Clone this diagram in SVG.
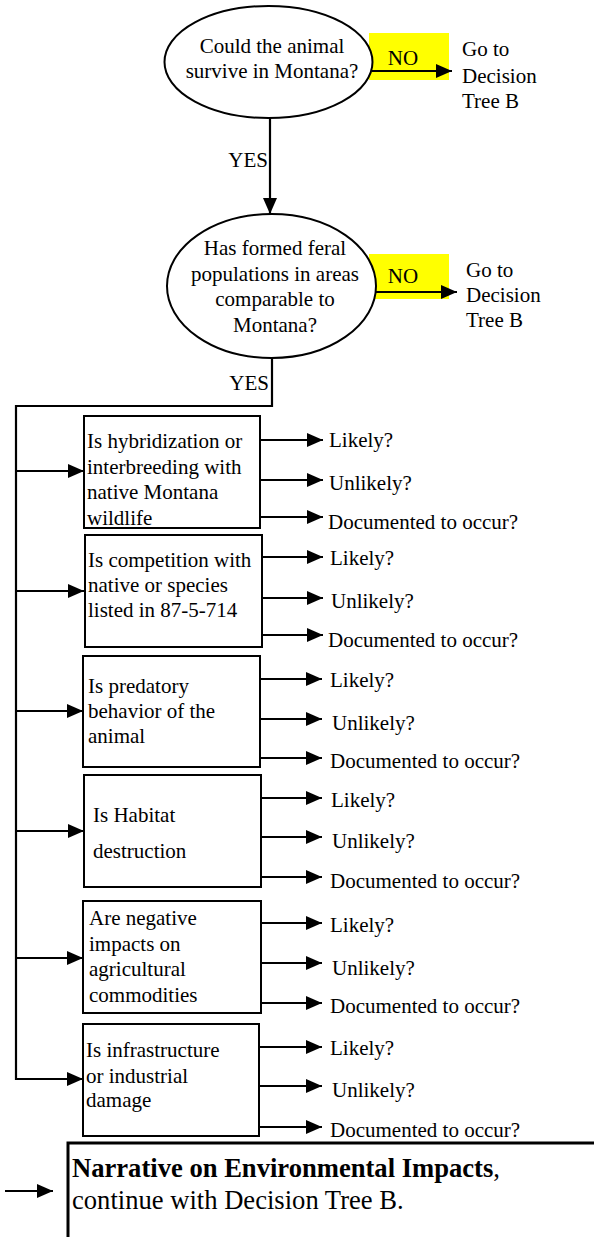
<svg xmlns="http://www.w3.org/2000/svg" width="594" height="1237" viewBox="0 0 594 1237">
<style>
text{font-family:"Liberation Serif",Tinos,"Times New Roman",Times,"Noto Serif","DejaVu Serif",serif;font-size:21px;fill:#000}
.c{text-anchor:middle}
.e{text-anchor:end}
.shape{fill:#fff;stroke:#000;stroke-width:2}
.ln{fill:none;stroke:#000;stroke-width:2.2}
.ar{fill:none;stroke:#000;stroke-width:2.2;marker-end:url(#ah)}
.hl{fill:#ffff00}
.big{font-size:26.6px}
</style>
<defs>
<marker id="ah" markerUnits="userSpaceOnUse" markerWidth="16" markerHeight="14" refX="16" refY="7" orient="auto">
<path d="M0,0 L16,7 L0,14 z" fill="#000"/>
</marker>
</defs>
<rect width="594" height="1237" fill="#fff"/>

<g id="no1">
<rect class="hl" x="369" y="33" width="80" height="47"/>
<text class="c" x="403" y="65">NO</text>
</g>
<g id="no2">
<rect class="hl" x="369" y="254" width="80" height="45"/>
<text class="c" x="403" y="283">NO</text>
</g>

<g id="connectors">
<line class="ar" x1="270" y1="118" x2="270" y2="214"/>
<line class="ar" x1="372" y1="71" x2="452" y2="71"/>
<line class="ar" x1="376" y1="292" x2="457" y2="292"/>
<polyline class="ln" points="272,358 272,406 16,406 16,1079 30,1079"/>
<line class="ar" x1="16" y1="471" x2="84" y2="471"/>
<line class="ar" x1="16" y1="591" x2="84" y2="591"/>
<line class="ar" x1="16" y1="711" x2="83" y2="711"/>
<line class="ar" x1="16" y1="831" x2="84" y2="831"/>
<line class="ar" x1="16" y1="958" x2="83" y2="958"/>
<line class="ar" x1="16" y1="1079" x2="83" y2="1079"/>
<line class="ar" x1="260" y1="440" x2="323" y2="440"/>
<line class="ar" x1="260" y1="480" x2="323" y2="480"/>
<line class="ar" x1="260" y1="517" x2="323" y2="517"/>
<line class="ar" x1="262" y1="557" x2="323" y2="557"/>
<line class="ar" x1="262" y1="598" x2="323" y2="598"/>
<line class="ar" x1="262" y1="635" x2="323" y2="635"/>
<line class="ar" x1="260" y1="679" x2="322" y2="679"/>
<line class="ar" x1="260" y1="719" x2="322" y2="719"/>
<line class="ar" x1="260" y1="758" x2="322" y2="758"/>
<line class="ar" x1="261" y1="798" x2="322" y2="798"/>
<line class="ar" x1="261" y1="837" x2="322" y2="837"/>
<line class="ar" x1="261" y1="877" x2="322" y2="877"/>
<line class="ar" x1="261" y1="923" x2="322" y2="923"/>
<line class="ar" x1="261" y1="963" x2="322" y2="963"/>
<line class="ar" x1="261" y1="1003" x2="322" y2="1003"/>
<line class="ar" x1="259" y1="1047" x2="322" y2="1047"/>
<line class="ar" x1="259" y1="1086" x2="322" y2="1086"/>
<line class="ar" x1="259" y1="1127" x2="322" y2="1127"/>
<line class="ar" x1="5" y1="1191" x2="53" y2="1191"/>
<text class="e" x="268" y="167">YES</text>
<text class="e" x="269" y="390">YES</text>
</g>

<g id="q1">
<ellipse class="shape" cx="268.5" cy="62" rx="104" ry="56"/>
<text class="c" x="272" y="53">Could the animal</text>
<text class="c" x="272" y="78">survive in Montana?</text>
</g>
<g id="goto1">
<text x="462" y="56">Go to</text>
<text x="462" y="83">Decision</text>
<text x="462" y="108">Tree B</text>
</g>

<g id="q2">
<ellipse class="shape" cx="271.5" cy="286" rx="104.5" ry="72"/>
<text class="c" x="275" y="255">Has formed feral</text>
<text class="c" x="275" y="281">populations in areas</text>
<text class="c" x="275" y="306">comparable to</text>
<text class="c" x="275" y="332">Montana?</text>
</g>
<g id="goto2">
<text x="466" y="277">Go to</text>
<text x="466" y="302">Decision</text>
<text x="466" y="327">Tree B</text>
</g>

<g id="b1">
<rect class="shape" x="84" y="416" width="176" height="112"/>
<text x="87" y="448">Is hybridization or</text>
<text x="87" y="474">interbreeding with</text>
<text x="87" y="499">native Montana</text>
<text x="87" y="525">wildlife</text>
</g>
<g id="b1-out">
<text x="329" y="447">Likely?</text>
<text x="329" y="490">Unlikely?</text>
<text x="328" y="529">Documented to occur?</text>
</g>

<g id="b2">
<rect class="shape" x="85" y="535" width="177" height="112"/>
<text x="88" y="567">Is competition with</text>
<text x="88" y="592">native or species</text>
<text x="88" y="617">listed in 87-5-714</text>
</g>
<g id="b2-out">
<text x="330" y="565">Likely?</text>
<text x="331" y="608">Unlikely?</text>
<text x="328" y="647">Documented to occur?</text>
</g>

<g id="b3">
<rect class="shape" x="83" y="656" width="177" height="111"/>
<text x="88" y="693">Is predatory</text>
<text x="88" y="718">behavior of the</text>
<text x="88" y="743">animal</text>
</g>
<g id="b3-out">
<text x="330" y="687">Likely?</text>
<text x="332" y="730">Unlikely?</text>
<text x="330" y="768">Documented to occur?</text>
</g>

<g id="b4">
<rect class="shape" x="84" y="775" width="177" height="112"/>
<text x="93" y="822">Is Habitat</text>
<text x="93" y="858">destruction</text>
</g>
<g id="b4-out">
<text x="331" y="807">Likely?</text>
<text x="332" y="848">Unlikely?</text>
<text x="330" y="888">Documented to occur?</text>
</g>

<g id="b5">
<rect class="shape" x="83" y="901" width="178" height="112"/>
<text x="89" y="925">Are negative</text>
<text x="89" y="951">impacts on</text>
<text x="89" y="976">agricultural</text>
<text x="89" y="1002">commodities</text>
</g>
<g id="b5-out">
<text x="330" y="932">Likely?</text>
<text x="332" y="975">Unlikely?</text>
<text x="330" y="1013">Documented to occur?</text>
</g>

<g id="b6">
<rect class="shape" x="83" y="1024" width="176" height="112"/>
<text x="86" y="1057">Is infrastructure</text>
<text x="86" y="1083">or industrial</text>
<text x="86" y="1107">damage</text>
</g>
<g id="b6-out">
<text x="330" y="1055">Likely?</text>
<text x="332" y="1097">Unlikely?</text>
<text x="330" y="1137">Documented to occur?</text>
</g>

<g id="narrative">
<path d="M68,1240 L68,1143 L596,1143" fill="none" stroke="#000" stroke-width="3"/>
<text class="big" x="72" y="1177"><tspan font-weight="bold">Narrative on Environmental Impacts</tspan>,</text>
<text class="big" x="72" y="1209">continue with Decision Tree B.</text>
</g>
</svg>
